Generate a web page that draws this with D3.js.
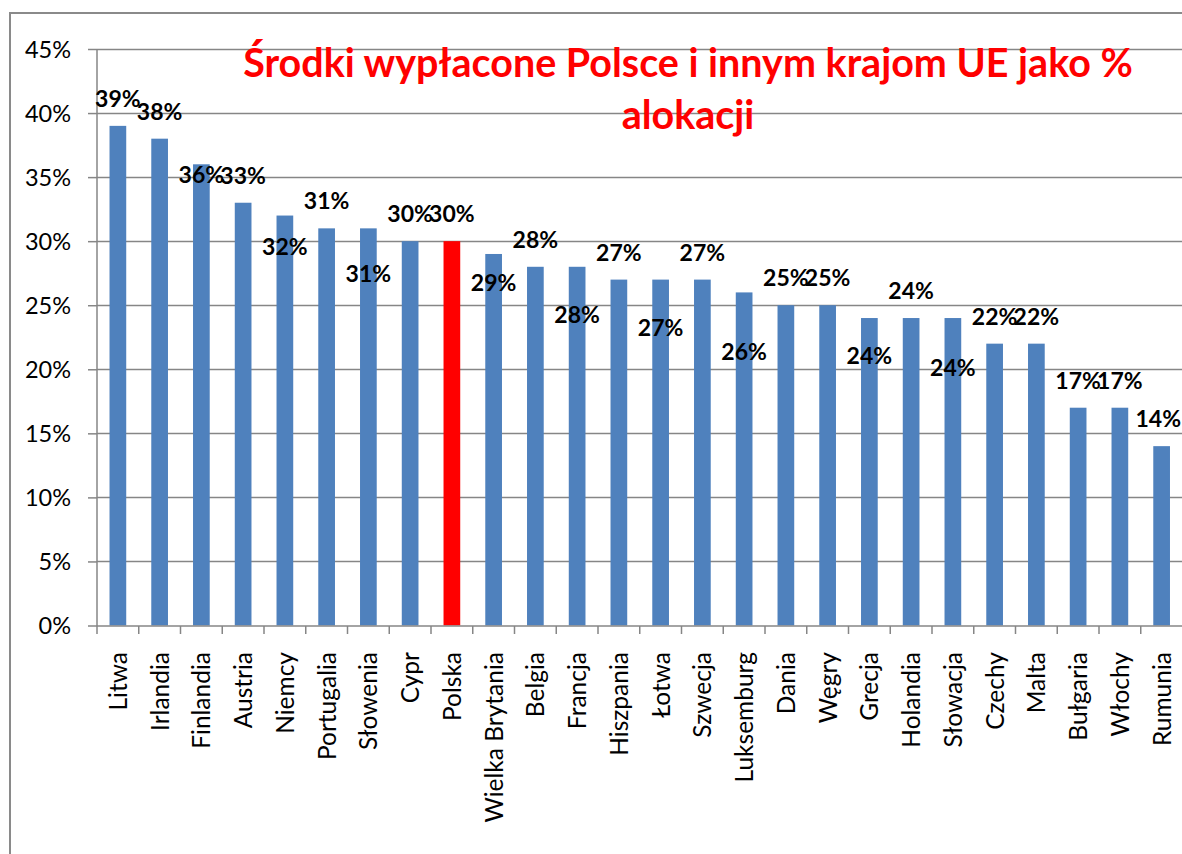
<!DOCTYPE html>
<html>
<head>
<meta charset="utf-8">
<script src="https://cdn.jsdelivr.net/npm/d3@7"></script>
<style>
	body { margin: 0; background: #fff; }
	text { font-family: Lato, "Open Sans", sans-serif; }
</style>
</head>
<body>
<div id="chart"></div>
<script>
// data
var countries = ["Litwa", "Irlandia", "Finlandia", "Austria", "Niemcy", "Portugalia", "Słowenia", "Cypr", "Polska",
	"Wielka Brytania", "Belgia", "Francja", "Hiszpania", "Łotwa", "Szwecja", "Luksemburg", "Dania", "Węgry",
	"Grecja", "Holandia", "Słowacja", "Czechy", "Malta", "Bułgaria", "Włochy", "Rumunia"];
var shares = [39, 38, 36, 33, 32, 31, 31, 30, 30, 29, 28, 28, 27, 27, 27, 26, 25, 25, 24, 24, 24, 22, 22, 17, 17, 14];
var yTicks = [0, 5, 10, 15, 20, 25, 30, 35, 40, 45];
var titleLines = ["Środki wypłacone Polsce i innym krajom UE jako %", "alokacji"];
var highlight = "Polska";

// label placement, px from bar top to text baseline (Excel put some of them under the top)
var labelDy = [-19, -19, 19, -19, 39, -19, 54, -19, -19, 37, -19, 56, -19, 56, -19, 68, -19, -19, 46, -19, 58, -19, -19, -19, -19, -19];

var width = 1182, height = 854;
var svg = d3.select("#chart").append("svg")
	.attr("width", width)
	.attr("height", height)
	.style("display", "block");

svg.append("rect").attr("width", width).attr("height", height).attr("fill", "#fff");

// outer frame (only top and left visible)
svg.append("path")
	.attr("d", "M10," + height + "V13H" + width)
	.attr("fill", "none")
	.attr("stroke", "#8a8a8a")
	.attr("stroke-width", 2);

var x = d3.scaleBand()
	.domain(countries)
	.range([97, 1182.5])
	.paddingInner(0.6)
	.paddingOuter(0.3);

var y = d3.scaleLinear()
	.domain([0, 45])
	.range([625.5, 49]);

// gridlines
svg.append("g").selectAll("line")
	.data(yTicks.slice(1))
	.enter().append("line")
	.attr("x1", 97).attr("x2", width)
	.attr("y1", function (d) { return Math.round(y(d)) + 0.5; })
	.attr("y2", function (d) { return Math.round(y(d)) + 0.5; })
	.attr("stroke", "#868686")
	.attr("stroke-width", 1.5);

// y axis
var yAxis = svg.append("g")
	.attr("transform", "translate(97,0)")
	.call(d3.axisLeft(y).tickValues(yTicks).tickSize(9).tickPadding(17)
		.tickFormat(function (d) { return d + "%"; }));
yAxis.selectAll("line").attr("stroke", "#868686").attr("stroke-width", 1.5);
yAxis.select(".domain").attr("stroke", "#868686").attr("stroke-width", 1.5).attr("d", "M0,49V626");
yAxis.selectAll("text").attr("font-size", 23.5).attr("fill", "#000").attr("font-family", "Lato").attr("dy", "0.35em");

// bars
svg.append("g").selectAll("rect")
	.data(countries)
	.enter().append("rect")
	.attr("x", function (d) { return x(d); })
	.attr("width", x.bandwidth())
	.attr("y", function (d, i) { return y(shares[i]); })
	.attr("height", function (d, i) { return y(0) - y(shares[i]); })
	.attr("fill", function (d) { return d == highlight ? "#ff0000" : "#4f81bd"; });

// x axis
var xAxis = svg.append("g")
	.attr("transform", "translate(0,626)");
xAxis.append("line")
	.attr("x1", 97).attr("x2", width)
	.attr("stroke", "#868686").attr("stroke-width", 1.5);
xAxis.selectAll(".tick")
	.data(countries)
	.enter().append("line")
	.attr("x1", function (d) { return x(d) - x.step() * 0.3; })
	.attr("x2", function (d) { return x(d) - x.step() * 0.3; })
	.attr("y1", 0).attr("y2", 8)
	.attr("stroke", "#868686").attr("stroke-width", 1.5);
xAxis.selectAll("text")
	.data(countries)
	.enter().append("text")
	.attr("transform", function (d) {
		return "translate(" + (x(d) + x.bandwidth() / 2 + 9) + ",26) rotate(-90)";
	})
	.attr("text-anchor", "end")
	.attr("font-size", 24.5)
	.attr("fill", "#000")
	.text(function (d) { return d; });

// value labels
var labels = svg.append("g").selectAll("text")
	.data(countries)
	.enter().append("text")
	.attr("x", function (d) { return x(d) + x.bandwidth() / 2; })
	.attr("y", function (d, i) { return y(shares[i]) + labelDy[i]; })
	.attr("text-anchor", "middle")
	.attr("font-size", 23)
	.attr("font-weight", "bold")
	.attr("fill", "#000")
	.text(function (d, i) { return shares[i] + "%"; });
// keep the last one inside the picture
labels.attr("x", function (d) {
	var w = this.getComputedTextLength();
	return Math.min(x(d) + x.bandwidth() / 2, width - w / 2 - 1);
});

// title, sized so the first line spans about as wide as in the original
var title = svg.append("g").selectAll("text")
	.data(titleLines)
	.enter().append("text")
	.attr("x", 688)
	.attr("y", function (d, i) { return 77 + i * 52; })
	.attr("text-anchor", "middle")
	.attr("font-size", 33)
	.attr("font-weight", "bold")
	.attr("fill", "#ff0000")
	.text(function (d) { return d; });
var w0 = title.node().getComputedTextLength();
title.attr("font-size", Math.min(40, 33 * 890 / w0));
</script>
</body>
</html>
